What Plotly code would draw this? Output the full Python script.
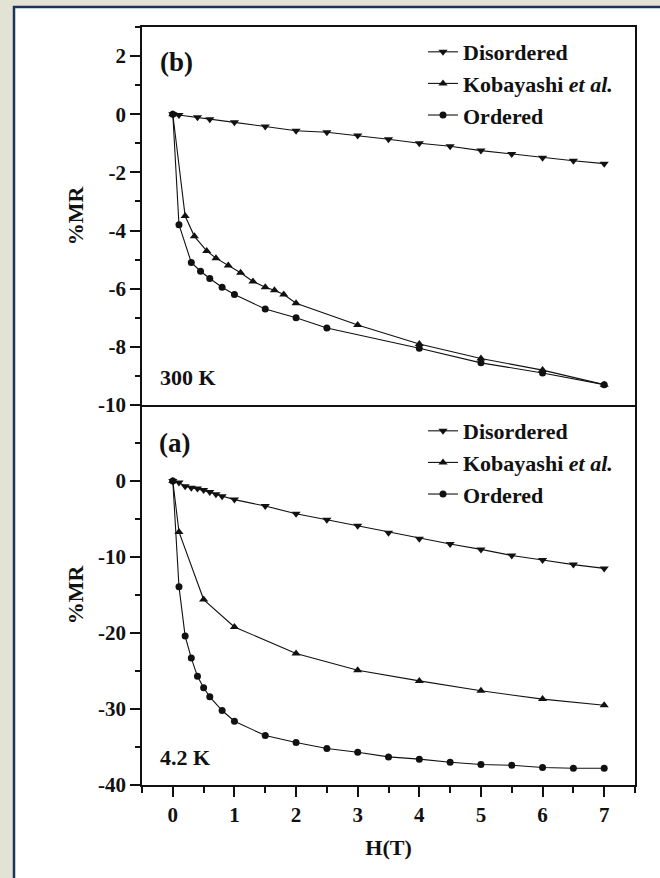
import plotly.graph_objects as go

# ---- 300 K panel (b) ----
h_dis_300 = [0, 0.1, 0.4, 0.6, 1.0, 1.5, 2.0, 2.5, 3.0, 3.5, 4.0, 4.5, 5.0, 5.5, 6.0, 6.5, 7.0]
mr_dis_300 = [0, -0.03, -0.1, -0.17, -0.28, -0.42, -0.57, -0.62, -0.73, -0.86, -1.0, -1.1, -1.25, -1.37, -1.5, -1.6, -1.7]

h_kob_300 = [0, 0.2, 0.35, 0.55, 0.7, 0.9, 1.1, 1.3, 1.5, 1.65, 1.8, 2.0, 3.0, 4.0, 5.0, 6.0, 7.0]
mr_kob_300 = [0, -3.5, -4.2, -4.7, -4.95, -5.2, -5.45, -5.75, -5.95, -6.05, -6.2, -6.5, -7.25, -7.9, -8.4, -8.8, -9.3]

h_ord_300 = [0, 0.1, 0.3, 0.45, 0.6, 0.8, 1.0, 1.5, 2.0, 2.5, 4.0, 5.0, 6.0, 7.0]
mr_ord_300 = [0, -3.8, -5.1, -5.4, -5.65, -5.95, -6.2, -6.7, -7.0, -7.35, -8.05, -8.55, -8.9, -9.3]

# ---- 4.2 K panel (a) ----
h_dis_4k = [0, 0.1, 0.2, 0.3, 0.4, 0.5, 0.6, 0.7, 0.8, 1.0, 1.5, 2.0, 2.5, 3.0, 3.5, 4.0, 4.5, 5.0, 5.5, 6.0, 6.5, 7.0]
mr_dis_4k = [0, -0.2, -0.7, -0.9, -1.0, -1.2, -1.45, -1.75, -2.0, -2.45, -3.3, -4.3, -5.1, -5.9, -6.8, -7.6, -8.3, -9.0, -9.8, -10.4, -11.0, -11.5]

h_kob_4k = [0, 0.1, 0.5, 1.0, 2.0, 3.0, 4.0, 5.0, 6.0, 7.0]
mr_kob_4k = [0, -6.7, -15.6, -19.2, -22.7, -24.9, -26.3, -27.6, -28.7, -29.5]

h_ord_4k = [0, 0.1, 0.2, 0.3, 0.4, 0.5, 0.6, 0.8, 1.0, 1.5, 2.0, 2.5, 3.0, 3.5, 4.0, 4.5, 5.0, 5.5, 6.0, 6.5, 7.0]
mr_ord_4k = [0, -13.9, -20.4, -23.3, -25.7, -27.2, -28.4, -30.2, -31.6, -33.5, -34.4, -35.2, -35.7, -36.3, -36.6, -37.0, -37.3, -37.4, -37.7, -37.8, -37.8]

series_names = ["Disordered", "Kobayashi <i>et al.</i>", "Ordered"]
symbols = ["triangle-down", "triangle-up", "circle"]
marker_sizes = [8, 8, 7]

x_ticks = [0, 1, 2, 3, 4, 5, 6, 7]
y_ticks_top = [2, 0, -2, -4, -6, -8, -10]
y_ticks_bot = [0, -10, -20, -30, -40]

FONT = "Liberation Serif"
INK = "#111111"

fig = go.Figure()

top_sets = [(h_dis_300, mr_dis_300), (h_kob_300, mr_kob_300), (h_ord_300, mr_ord_300)]
bot_sets = [(h_dis_4k, mr_dis_4k), (h_kob_4k, mr_kob_4k), (h_ord_4k, mr_ord_4k)]

for (xs, ys), name, sym, ms in zip(top_sets, series_names, symbols, marker_sizes):
    fig.add_trace(go.Scatter(
        x=xs, y=ys, mode="lines+markers", name=name,
        line=dict(color=INK, width=1.1),
        marker=dict(symbol=sym, size=ms, color=INK),
        xaxis="x2", yaxis="y2", legend="legend",
    ))

for (xs, ys), name, sym, ms in zip(bot_sets, series_names, symbols, marker_sizes):
    fig.add_trace(go.Scatter(
        x=xs, y=ys, mode="lines+markers", name=name,
        line=dict(color=INK, width=1.1),
        marker=dict(symbol=sym, size=ms, color=INK),
        xaxis="x", yaxis="y", legend="legend2",
    ))

tick_font = dict(family=FONT, size=21, color=INK, weight="bold")
title_font = dict(family=FONT, size=22, color=INK, weight="bold")
legend_font = dict(family=FONT, size=22, color=INK, weight="bold")


def fmt(v):
    return str(v) if v >= 0 else "-" + str(-v)


axis_common = dict(showline=True, linecolor=INK, linewidth=1.5, showgrid=False, zeroline=False)

frac = 380 / 758

fig.update_layout(
    width=660, height=878,
    margin=dict(l=142, r=25, t=27, b=93),
    paper_bgcolor="#e3e3d5",
    plot_bgcolor="rgba(0,0,0,0)",
    showlegend=True,
    xaxis=dict(
        **axis_common, mirror=False, domain=[0, 1], range=[-0.5, 7.5], anchor="y",
        tickvals=x_ticks, ticktext=[fmt(v) for v in x_ticks],
        ticks="outside", ticklen=10, tickwidth=1.5, tickcolor=INK,
        minor=dict(dtick=0.5, tick0=0, ticks="outside", ticklen=6, tickwidth=1.5, tickcolor=INK),
        tickfont=tick_font,
        title=dict(text="H(T)", font=title_font, standoff=14),
    ),
    yaxis=dict(
        **axis_common, mirror=True, domain=[0, frac], range=[-40, 10], anchor="x",
        tickvals=y_ticks_bot, ticktext=[fmt(v) for v in y_ticks_bot],
        ticks="outside", ticklen=10, tickwidth=1.5, tickcolor=INK,
        minor=dict(dtick=5, tick0=0, ticks="outside", ticklen=5, tickwidth=1.5, tickcolor=INK),
        tickfont=tick_font,
        title=dict(text="%MR", font=title_font, standoff=8),
    ),
    xaxis2=dict(
        **axis_common, mirror=True, domain=[0, 1], range=[-0.5, 7.5], anchor="y2",
        showticklabels=False, ticks="",
    ),
    yaxis2=dict(
        **axis_common, mirror=True, domain=[frac, 1], range=[-10, 3], anchor="x2",
        tickvals=y_ticks_top, ticktext=[fmt(v) for v in y_ticks_top],
        ticks="outside", ticklen=10, tickwidth=1.5, tickcolor=INK,
        minor=dict(dtick=1, tick0=0, ticks="outside", ticklen=5, tickwidth=1.5, tickcolor=INK),
        tickfont=tick_font,
        title=dict(text="%MR", font=title_font, standoff=8),
    ),
    legend=dict(
        x=0.57, y=0.9947, xanchor="left", yanchor="top", xref="paper", yref="paper",
        bgcolor="rgba(0,0,0,0)", font=legend_font, tracegroupgap=0, itemclick=False,
    ),
    legend2=dict(
        x=0.57, y=0.4947, xanchor="left", yanchor="top", xref="paper", yref="paper",
        bgcolor="rgba(0,0,0,0)", font=legend_font, tracegroupgap=0, itemclick=False,
    ),
)

# white page with a dark rule along its left and top edges
fig.add_shape(
    type="rect", xref="paper", yref="paper",
    x0=(14 - 142) / 493, x1=1.2, y0=-0.3, y1=1 + (27 - 7) / 758,
    fillcolor="white", line=dict(color="#1b3560", width=2.5), layer="below",
)

label_font = dict(family=FONT, size=22, color=INK, weight="bold")
panel_font = dict(family=FONT, size=27, color=INK, weight="bold")
fig.add_annotation(text="(b)", x=-0.24, y=1.8, xref="x2", yref="y2", xanchor="left",
                   showarrow=False, font=panel_font)
fig.add_annotation(text="300 K", x=-0.24, y=-9.07, xref="x2", yref="y2", xanchor="left",
                   showarrow=False, font=label_font)
fig.add_annotation(text="(a)", x=-0.26, y=5, xref="x", yref="y", xanchor="left",
                   showarrow=False, font=panel_font)
fig.add_annotation(text="4.2 K", x=-0.24, y=-36.4, xref="x", yref="y", xanchor="left",
                   showarrow=False, font=label_font)

fig.write_html("out.html")
